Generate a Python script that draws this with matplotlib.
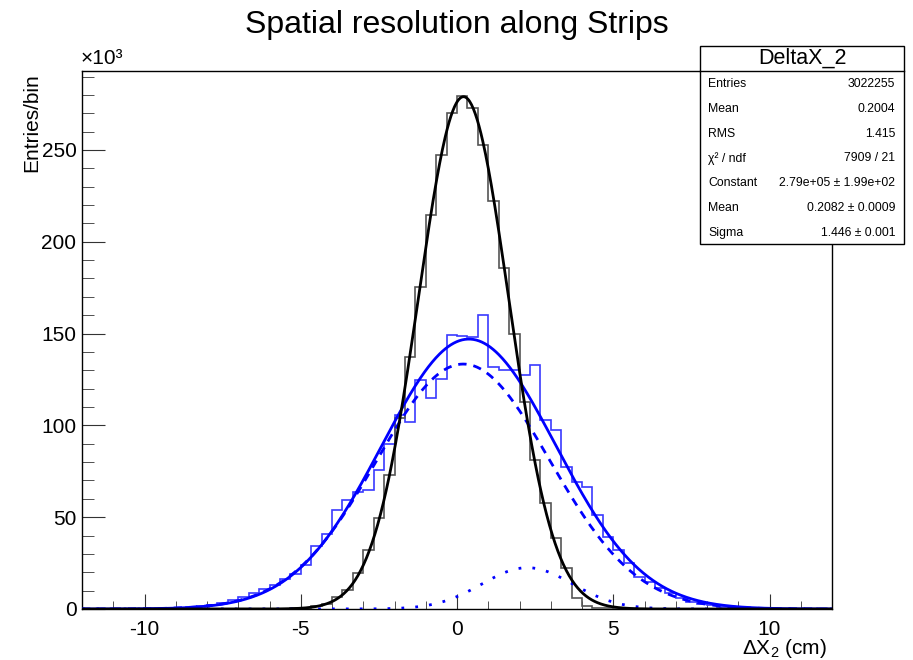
import numpy as np
import matplotlib
matplotlib.use('Agg')
import matplotlib.pyplot as plt
from matplotlib.patches import Rectangle
from matplotlib.ticker import MultipleLocator

plt.rcParams['font.family'] = ['Liberation Sans', 'DejaVu Sans']
plt.rcParams['mathtext.fontset'] = 'custom'
plt.rcParams['mathtext.rm'] = 'Liberation Sans'
plt.rcParams['mathtext.it'] = 'Liberation Sans:italic'

# histogram binning (72 bins of 1/3 cm)
n_bins = 72
x_min, x_max = -12.0, 12.0

# bin contents in units of 10^3 entries
black_counts = [0, 0, 0, 0, 0, 0, 0, 0, 0, 0, 0, 0, 0, 0, 0, 0, 0, 0,
                0.05, 0.1, 0.3, 0.6, 1.4, 2.9, 6.5, 10.3, 19.6, 32, 49.6, 73,
                104, 137.4, 175.5, 214.6, 247.3, 270, 279.5, 272.7, 252.7, 222.4,
                185.9, 150, 113, 81, 57.7, 38.6, 22.1, 5.8, 1.5, 0.8,
                0.4, 0.2, 0.1, 0, 0, 0, 0, 0, 0, 0, 0, 0, 0, 0, 0, 0, 0, 0, 0, 0, 0, 0]

blue_counts = [0.02, 0.03, 0.04, 0.05, 0.07, 0.1, 0.13, 0.3, 0.4, 0.6,
               0.9, 1.4, 2.2, 3.3, 4.8, 6.5, 8.5, 11, 13, 16.5,
               19, 24, 34.4, 40.7, 53.9, 59.4, 63.9, 64.8, 75.7, 90,
               105.7, 102, 124.7, 114.8, 125, 149.2, 148.7, 148, 160.1, 132.0,
               130.2, 130.2, 127.5, 132.9, 102.9, 97.5, 77.5, 69.3, 66.6, 51.2,
               39.4, 32.1, 24.9, 17.6, 14.9, 11.3, 8.6, 5.8, 4.0, 2.8,
               2.0, 1.3, 0.9, 0.6, 0.4, 0.3, 0.2, 0.15, 0.1, 0.07, 0.05, 0.03]

# gaussian curve parameters (constant in 10^3, mean, sigma)
black_fit = (279.0, 0.2082, 1.446)     # from the stat box
blue_total = (147.0, 0.38, 2.78)       # solid blue curve
blue_wide = (133.4, 0.20, 2.77)        # dashed component
blue_narrow = (22.5, 2.25, 1.45)       # dotted component

stat_labels = ['Entries', 'Mean', 'RMS', 'χ² / ndf', 'Constant', 'Mean', 'Sigma']
stat_values = ['3022255', '0.2004', '1.415', '7909 / 21',
               '2.79e+05 ± 1.99e+02', '0.2082 ± 0.0009', '1.446 ± 0.001']


def gaus(x, a, m, s):
    return a * np.exp(-0.5 * ((x - m) / s) ** 2)


W, H = 913, 660
fig = plt.figure(figsize=(W / 100, H / 100), dpi=100)
ax = fig.add_axes([82 / W, 1 - 609 / H, 750 / W, 538 / H])

edges = np.linspace(x_min, x_max, n_bins + 1)
ax.stairs(blue_counts, edges, color='#3a3aff', lw=1.2, zorder=2)
ax.stairs(black_counts, edges, color='#555555', lw=1.2, zorder=3)

xs = np.linspace(x_min, x_max, 800)
ax.plot(xs, gaus(xs, *blue_narrow), color='#0000ff', lw=2, ls=(0, (1, 4)), zorder=4)
ax.plot(xs, gaus(xs, *blue_wide), color='#0000ff', lw=2, ls=(0, (3, 2.5)), zorder=4)
ax.plot(xs, gaus(xs, *blue_total), color='#0000ff', lw=2, zorder=5)
ax.plot(xs, gaus(xs, *black_fit), color='black', lw=2, zorder=6)

ax.set_xlim(x_min, x_max)
ax.set_ylim(0, 293)
ax.set_xticks([-10, -5, 0, 5, 10])
ax.set_xticklabels(['-10', '-5', '0', '5', '10'])
ax.xaxis.set_minor_locator(MultipleLocator(1))
ax.yaxis.set_major_locator(MultipleLocator(50))
ax.yaxis.set_minor_locator(MultipleLocator(10))
ax.tick_params(which='both', direction='in', top=False, right=False,
               labelsize=15, color='#333333')
ax.tick_params(axis='y', which='major', length=16.5, pad=4)
ax.tick_params(axis='y', which='minor', length=8.5)
ax.tick_params(axis='x', which='major', length=11, pad=8)
ax.tick_params(axis='x', which='minor', length=6)
for sp in ax.spines.values():
    sp.set_linewidth(1.0)

fig.text(457 / W, 1 - 25 / H, 'Spatial resolution along Strips',
         ha='center', va='center', fontsize=23)
fig.text(81 / W, 1 - 59 / H, '×10³', ha='left', va='center', fontsize=15)
fig.text(32 / W, 1 - 73 / H, 'Entries/bin', rotation=90,
         ha='center', va='top', fontsize=15)
fig.text(827 / W, 1 - 649 / H, r'$\Delta\mathrm{X}_2$ (cm)',
         ha='right', va='center', fontsize=15)

# stat box
bx0, bx1, by0, by1 = 700, 904, 46, 244
fig.patches.append(Rectangle((bx0 / W, 1 - by1 / H), (bx1 - bx0) / W,
                             (by1 - by0) / H, transform=fig.transFigure,
                             facecolor='white', edgecolor='black', lw=1,
                             zorder=10))
fig.lines.append(plt.Line2D([bx0 / W, bx1 / W], [1 - 71 / H, 1 - 71 / H],
                            transform=fig.transFigure, color='black', lw=1,
                            zorder=11))
fig.text((bx0 + bx1) / 2 / W, 1 - 58 / H, 'DeltaX_2', ha='center',
         va='center', fontsize=15.5, zorder=12)
for i, (lab, val) in enumerate(zip(stat_labels, stat_values)):
    y = 1 - (84 + i * 24.8) / H
    fig.text(708 / W, y, lab, ha='left', va='center', fontsize=8.8, zorder=12)
    fig.text(895 / W, y, val, ha='right', va='center', fontsize=8.8, zorder=12)

fig.savefig('out.png', dpi=100)
